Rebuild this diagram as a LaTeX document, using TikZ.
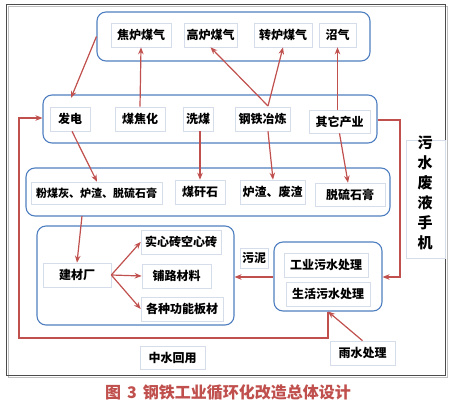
\documentclass[tikz,border=0pt]{standalone}
\usepackage{fontspec}
\newfontfamily\cjk{Noto Sans CJK SC}
\usetikzlibrary{arrows.meta,calc}
\definecolor{boxblue}{HTML}{4F7FC0}
\definecolor{arrred}{HTML}{C0504D}
\definecolor{light}{HTML}{D6DDEA}
\begin{document}
\begin{tikzpicture}[x=1pt,y=-1pt,
  grp/.style={draw=boxblue,line width=1.1pt,rounded corners=9pt,inner sep=0pt},
  tb/.style={draw=light,line width=0.6pt,fill=white,inner sep=0pt,font=\cjk\bfseries\fontsize{12}{12}\selectfont},
  arr/.style={draw=arrred,line width=1.2pt,-{Stealth[length=7pt,width=5.5pt]}},
  ln/.style={draw=arrred,line width=1.2pt}]
\useasboundingbox (0,0) rectangle (450,404);
% outer frame
\draw[gray!50,line width=1pt] (8,7) rectangle (447,377);
\draw[black!70,line width=1pt] (6,5) rectangle (445,375);
% group boxes
\node[grp,minimum width=273pt,minimum height=49pt] (g1) at (233.5,36.5) {};
\node[grp,minimum width=334pt,minimum height=48pt] (g2) at (210,119) {};
\node[grp,minimum width=364pt,minimum height=48pt] (g3) at (208,192) {};
\node[grp,minimum width=197pt,minimum height=99pt] (g4) at (135.5,275.5) {};
\node[grp,minimum width=108pt,minimum height=69pt] (g5) at (328,276.5) {};
% top row
\node[tb,minimum width=60pt,minimum height=24pt] (jl) at (141,35) {焦炉煤气};
\node[tb,minimum width=53pt,minimum height=24pt] (gl) at (210.5,35) {高炉煤气};
\node[tb,minimum width=58pt,minimum height=24pt] (zl) at (283,35) {转炉煤气};
\node[tb,minimum width=37pt,minimum height=24pt] (zq) at (337.5,35) {沼气};
% second row
\node[tb,minimum width=40pt,minimum height=24pt] (fd) at (70,119) {发电};
\node[tb,minimum width=50pt,minimum height=24pt] (mjh) at (140,119) {煤焦化};
\node[tb,minimum width=30pt,minimum height=24pt] (xm) at (198,119) {洗煤};
\node[tb,minimum width=55pt,minimum height=24pt] (gt) at (262.5,119) {钢铁冶炼};
\node[tb,minimum width=61pt,minimum height=23pt] (qt) at (339.5,121.5) {其它产业};
% third row
\node[tb,minimum width=131pt,minimum height=22pt,font=\cjk\bfseries\fontsize{11}{12}\selectfont] (fmh) at (96.5,193) {粉煤灰、炉渣、脱硫石膏};
\node[tb,minimum width=50pt,minimum height=24pt] (mgs) at (200,192) {煤矸石};
\node[tb,minimum width=65pt,minimum height=24pt] (lz) at (272.5,192) {炉渣、废渣};
\node[tb,minimum width=70pt,minimum height=23pt] (tl) at (350,194.5) {脱硫石膏};
% left group
\node[tb,minimum width=68pt,minimum height=24pt] (jc) at (77,275) {建材厂};
\node[tb,minimum width=80pt,minimum height=24pt] (sx) at (181,242) {实心砖空心砖};
\node[tb,minimum width=69pt,minimum height=24pt] (pl) at (176.5,276) {铺路材料};
\node[tb,minimum width=82pt,minimum height=24pt] (gz) at (182,309) {各种功能板材};
% right group
\node[tb,minimum width=84pt,minimum height=24pt] (gy) at (326,265) {工业污水处理};
\node[tb,minimum width=84pt,minimum height=24pt] (sh) at (328,294) {生活污水处理};
\node[tb,minimum width=28pt,minimum height=20pt] (wn) at (254,258) {污泥};
\node[tb,minimum width=65pt,minimum height=23pt] (zs) at (172.5,357.5) {中水回用};
\node[tb,minimum width=65pt,minimum height=24pt] (ys) at (362.5,353) {雨水处理};
% side label
\node[draw=light,line width=0.6pt,minimum width=39pt,minimum height=118pt,inner sep=0pt] (side) at (425.5,199) {};
\node[font=\cjk\bfseries\fontsize{15}{20}\selectfont,align=center,inner sep=0pt] (sidet) at (425,193) {污\\水\\废\\液\\手\\机};
% caption
\node[font=\cjk\bfseries\fontsize{16}{18}\selectfont,text=arrred] (cap) at (228,393) {图\hspace{6pt}3\hspace{6pt}钢铁工业循环化改造总体设计};
% coordinates
\coordinate (a1) at (71,98);
\coordinate (gtt) at (268,106);
\coordinate (c10) at (82,216);
\coordinate (r1) at (400,120);
\coordinate (r2) at (400,277);
\coordinate (l1) at (328,338);
\coordinate (l2) at (19,338);
\coordinate (l3) at (19,118);
% arrows
\draw[arr] (g1.west) -- (a1);
\draw[arr] (mjh.north) -- (jl.south);
\draw[arr] (gtt) -- (gl.south);
\draw[arr] (gtt) -- (zl.south);
\draw[arr] (qt.north -| zq.south) -- (zq.south);
\draw[arr] ([xshift=2pt]fd.south) -- ([xshift=0.5pt]fmh.north);
\draw[arr] (xm.south -| mgs.north) -- (mgs.north);
\draw[arr] ([xshift=5.5pt]gt.south) -- ([xshift=0.5pt]lz.north);
\draw[arr] (qt.south) -- ([xshift=-2pt]tl.north);
\draw[arr] (c10) -- (jc.north);
\draw[arr] (jc.east) -- (sx.west);
\draw[arr] (jc.east) -- (pl.west);
\draw[arr] (jc.east) -- (gz.west);
\draw[arr] (g5.west |- 0,277) -- (g4.east |- 0,277);
\draw[arr] (ys.north) -- (g5.south);
\draw[arr] (g2.east |- r1) -- (r1) -- (r2) -- (g5.east |- r2);
\draw[arr] (g5.south) -- (l1) -- (l2) -- (l3) -- (g2.west |- l3);
\end{tikzpicture}
\end{document}
